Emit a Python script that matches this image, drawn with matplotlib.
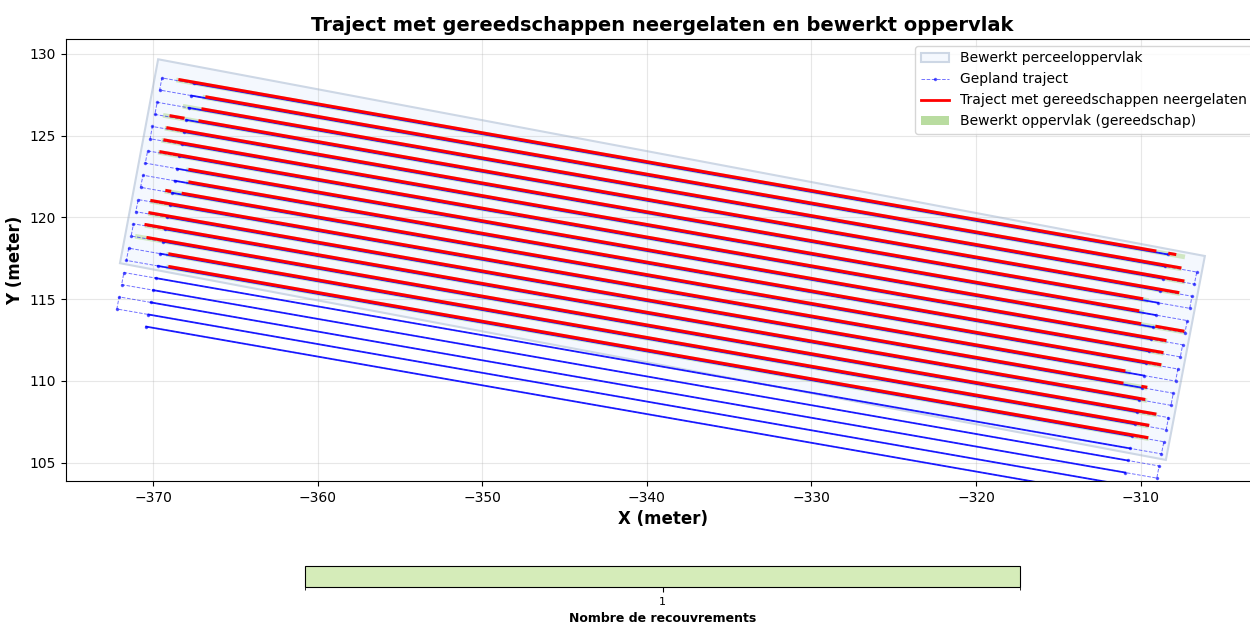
import numpy as np
import matplotlib.pyplot as plt
from matplotlib.patches import Polygon, Patch
from matplotlib.lines import Line2D
from matplotlib.colors import ListedColormap, BoundaryNorm
import matplotlib.cm as cm

# field outline (meter)
field_x = [-369.70, -306.09, -308.46, -372.02]
field_y = [129.67, 117.64, 105.17, 117.20]

# headland turn points of the 21 planned passes
left_x = [-369.47, -369.61, -369.76, -369.90, -370.05, -370.19, -370.34, -370.48, -370.62, -370.77, -370.91,
          -371.06, -371.20, -371.34, -371.49, -371.63, -371.78, -371.92, -372.07, -372.21, -372.35]
left_y = [128.53, 127.79, 127.04, 126.30, 125.56, 124.81, 124.07, 123.32, 122.58, 121.84, 121.09,
          120.35, 119.61, 118.86, 118.12, 117.37, 116.63, 115.89, 115.14, 114.40, 113.66]
right_x = [-306.44, -306.58, -306.73, -306.87, -307.01, -307.16, -307.30, -307.44, -307.58, -307.73, -307.87,
           -308.01, -308.15, -308.30, -308.44, -308.58, -308.73, -308.87, -309.01, -309.16, -309.30]
right_y = [117.40, 116.66, 115.92, 115.18, 114.44, 113.69, 112.95, 112.21, 111.47, 110.73, 109.99,
           109.25, 108.51, 107.76, 107.02, 106.28, 105.54, 104.80, 104.06, 103.32, 102.58]
inset = 1.92  # headland length before the dense pass starts

# tools lowered: x extent per worked pass (passes 1..16)
red_start = [-368.38, -366.74, -366.98, -367.16, -369.11, -369.29, -369.53, -367.77,
             -367.77, -368.18, -370.08, -370.20, -370.44, -370.32, -368.99, -368.99]
red_end = [-309.13, -307.61, -307.43, -307.74, -309.93, -310.17, -310.05, -308.52,
           -308.70, -308.83, -311.01, -311.13, -309.80, -309.13, -309.56, -309.62]
# short extra pieces (pass index, x0, x1)
red_extra = [(0, -308.22, -307.92), (3, -368.92, -368.19), (9, -369.17, -369.00),
             (6, -309.01, -307.43), (11, -309.86, -309.68)]
# treated area (green) slightly longer than the red trace
green_start = [-368.6, -367.0, -368.2, -369.4, -369.3, -369.5, -369.7, -368.0,
               -368.0, -369.3, -370.2, -370.3, -370.5, -371.1, -369.2, -369.2]
green_end = [-307.3, -307.5, -307.3, -307.6, -309.5, -309.8, -307.3, -308.4,
             -308.6, -308.7, -310.6, -309.6, -309.6, -309.0, -309.5, -309.5]

n_pass = len(left_x)


def on_pass(i, x):
    return np.interp(x, [left_x[i], right_x[i]], [left_y[i], right_y[i]])


path_x = []
path_y = []
solids = []
for i in range(n_pass):
    xl = left_x[i] + inset
    xr = right_x[i] - inset
    solids.append(([xl, xr], [on_pass(i, xl), on_pass(i, xr)]))
    if i % 2 == 0:
        pts = ([(right_x[i], right_y[i])] if i > 0 else []) + \
              [(xr, on_pass(i, xr)), (xl, on_pass(i, xl))] + \
              ([(left_x[i], left_y[i])] if i < n_pass - 1 else [])
    else:
        pts = [(left_x[i], left_y[i]), (xl, on_pass(i, xl)), (xr, on_pass(i, xr)), (right_x[i], right_y[i])]
    for px, py in pts:
        path_x.append(px)
        path_y.append(py)

fig = plt.figure(figsize=(12.5, 6.23), dpi=100)
ax = fig.add_axes([0.0528, 0.2279, 0.9544, 0.7095])

ax.add_patch(Polygon(np.column_stack([field_x, field_y]), closed=True, facecolor='#f4f8fe',
                     edgecolor='#cdd7e5', lw=1.5, zorder=1))

off = 0.08
for i in range(len(red_start)):
    gx = [green_start[i], green_end[i]]
    ax.plot(gx, on_pass(i, np.array(gx)) + 0.03, color='#c2e1aa', lw=3.4, alpha=0.7,
            solid_capstyle='butt', zorder=1.5)

for sx, sy in solids:
    ax.plot(sx, sy, color=(0.15, 0.15, 1.0), lw=1.3, zorder=2)
ax.plot(path_x, path_y, color='blue', ls='--', lw=0.7, alpha=0.55, marker='.', ms=3, zorder=2)

for i in range(len(red_start)):
    rx = [red_start[i], red_end[i]]
    ax.plot(rx, on_pass(i, np.array(rx)) + off, color='red', lw=2.2, zorder=4)
for i, x0, x1 in red_extra:
    rx = [x0, x1]
    ax.plot(rx, on_pass(i, np.array(rx)) + off, color='red', lw=2.2, zorder=4)

ax.set_xlim(-375.3, -302.8)
ax.set_ylim(103.88, 130.91)
ax.set_xticks([-370, -360, -350, -340, -330, -320, -310])
ax.set_yticks([105, 110, 115, 120, 125, 130])
ax.grid(True, alpha=0.3)
ax.set_xlabel('X (meter)', fontsize=12, fontweight='bold')
ax.set_ylabel('Y (meter)', fontsize=12, fontweight='bold')
ax.set_title('Traject met gereedschappen neergelaten en bewerkt oppervlak', fontsize=14, fontweight='bold')

handles = [
    Patch(facecolor='#f4f8fe', edgecolor='#cdd7e5', lw=1.5, label='Bewerkt perceeloppervlak'),
    Line2D([], [], color='blue', ls='--', lw=0.7, alpha=0.55, marker='.', ms=3, label='Gepland traject'),
    Line2D([], [], color='red', lw=2.0, label='Traject met gereedschappen neergelaten'),
    Patch(facecolor='#b9dca0', edgecolor='none', label='Bewerkt oppervlak (gereedschap)'),
]
ax.legend(handles=handles, loc='upper right', fontsize=10)

cmap = ListedColormap(['#d5ecb9'])
norm = BoundaryNorm([0.5, 1.5], 1)
cax = fig.add_axes([0.244, 0.0578, 0.572, 0.0337])
cb = fig.colorbar(cm.ScalarMappable(norm=norm, cmap=cmap), cax=cax, orientation='horizontal', ticks=[1])
cb.ax.tick_params(labelsize=8)
cb.set_label('Nombre de recouvrements', fontsize=9, fontweight='bold')

fig.savefig('out.png', dpi=100)
